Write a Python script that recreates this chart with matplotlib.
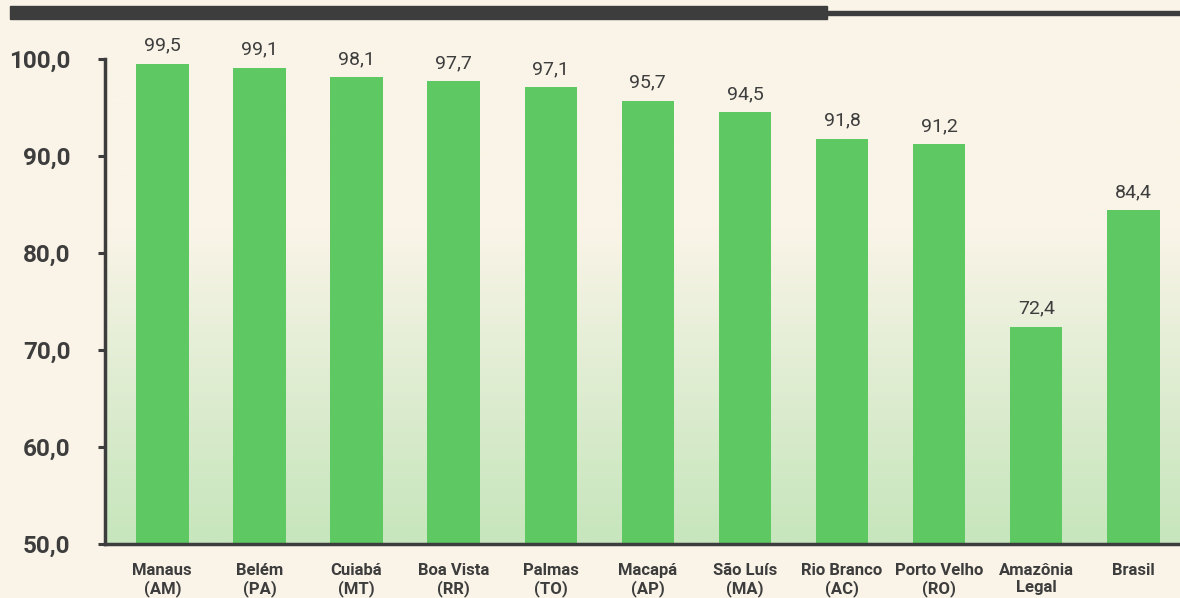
import numpy as np
import matplotlib.pyplot as plt
from matplotlib.colors import LinearSegmentedColormap
from matplotlib.patches import Rectangle

# DATA
# ========================================================
CATEGORIES = ["Manaus\n(AM)", "Belém\n(PA)", "Cuiabá\n(MT)", "Boa Vista\n(RR)", "Palmas\n(TO)",
              "Macapá\n(AP)", "São Luís\n(MA)", "Rio Branco\n(AC)", "Porto Velho\n(RO)",
              "Amazônia\nLegal", "Brasil"]
VALUES = [99.5, 99.1, 98.1, 97.7, 97.1, 95.7, 94.5, 91.8, 91.2, 72.4, 84.4]
Y_TICKS = [50, 60, 70, 80, 90, 100]
# ========================================================

# COLORS
BG_COLOR = "#faf4e8"
BAR_COLOR = "#5ec962"
DARK = "#3d3d3d"
GRAD_BOTTOM = "#c7e6bd"

FONT = ["Roboto", "DejaVu Sans"]
FONT_NARROW = ["Liberation Sans Narrow", "Roboto", "DejaVu Sans"]

fig = plt.figure(figsize=(11.8, 5.98), dpi=100, facecolor=BG_COLOR)
ax = fig.add_axes([105 / 1180, 1 - 544 / 598, 1 - 105 / 1180, (544 - 59) / 598])
ax.set_facecolor(BG_COLOR)

x = np.arange(len(VALUES))
ax.set_xlim(-0.59, len(VALUES) - 0.52)
ax.set_ylim(50, 100)

# background gradient: cream on top, light green at the bottom
cmap = LinearSegmentedColormap.from_list("bg", [GRAD_BOTTOM, BG_COLOR])
grad = np.linspace(0, 1, 256).reshape(-1, 1) ** 1.1
grad = np.clip(grad * 1.6, 0, 1)
ax.imshow(grad, aspect="auto", cmap=cmap, origin="lower",
          extent=(-0.59, len(VALUES) - 0.52, 50, 100), zorder=0)

bars = ax.bar(x, VALUES, width=0.54, color=BAR_COLOR, zorder=2)
for xi, v in zip(x, VALUES):
    ax.text(xi, v + 0.95, f"{v:.1f}".replace(".", ","), ha="center", va="bottom",
            fontsize=14, color=DARK, family=FONT, zorder=3)

ax.set_xticks(x)
ax.set_xticklabels(CATEGORIES, fontsize=12, fontweight="bold", color=DARK,
                   family=FONT_NARROW, linespacing=1.1)
ax.tick_params(axis="x", length=0, pad=14)

ax.set_yticks(Y_TICKS)
ax.set_yticklabels([f"{t:.1f}".replace(".", ",") for t in Y_TICKS], fontsize=17.5,
                   fontweight="bold", color=DARK, family=FONT)
ax.tick_params(axis="y", length=5, width=2.2, color=DARK, pad=20)

for side in ["top", "right"]:
    ax.spines[side].set_visible(False)
for side in ["left", "bottom"]:
    ax.spines[side].set_color(DARK)
    ax.spines[side].set_linewidth(2.5)
    ax.spines[side].set_zorder(4)

# header bar on top of the figure
fig.patches.append(Rectangle((10 / 1180, 1 - 19 / 598), 817 / 1180, 13 / 598,
                             transform=fig.transFigure, color=DARK, zorder=5))
fig.patches.append(Rectangle((827 / 1180, 1 - 14.5 / 598), 353 / 1180, 3.5 / 598,
                             transform=fig.transFigure, color=DARK, zorder=5))

plt.savefig("out.png", dpi=100, facecolor=BG_COLOR)
plt.close()
